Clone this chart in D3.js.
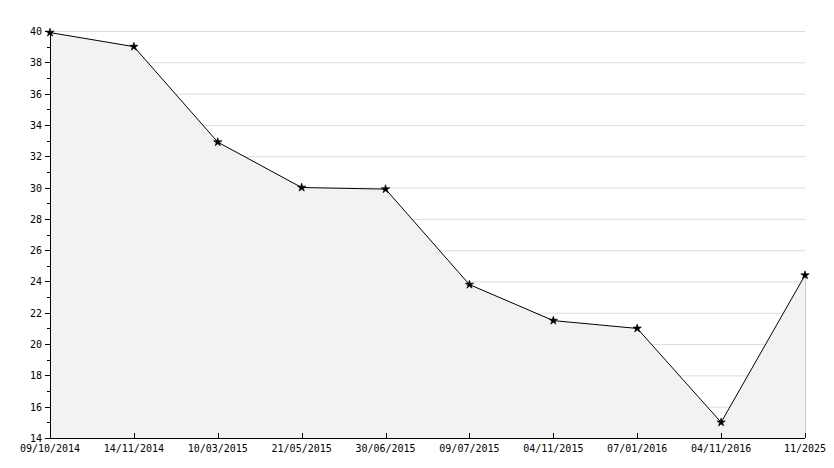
<!DOCTYPE html><html><head><script src="https://d3js.org/d3.v7.min.js"></script>
<style>body{margin:0;background:#fff}</style></head><body><script>
const categories=["09/10/2014","14/11/2014","10/03/2015","21/05/2015","30/06/2015","09/07/2015","04/11/2015","07/01/2016","04/11/2016","11/2025"];
const values=[39.9,39,32.9,30,29.9,23.8,21.5,21,15,24.4];
const yTicks=[14,16,18,20,22,24,26,28,30,32,34,36,38,40];
const W=834,H=468,L=50,R=805,T=31,B=438;
const svg=d3.select("body").append("svg").attr("width",W).attr("height",H);
const x=d3.scalePoint().domain(categories).range([L,R]);
const y=d3.scaleLinear().domain([14,40]).range([B,T]);
const font="DejaVu Sans Mono";
svg.append("g").selectAll("line").data(yTicks.slice(1)).join("line")
 .attr("x1",L).attr("x2",R).attr("y1",d=>y(d)+0.5).attr("y2",d=>y(d)+0.5).attr("stroke","#dcdcdc");
const pts=categories.map((c,i)=>[x(c),y(values[i])]);
svg.append("path").attr("d",d3.area().x(d=>d[0]).y0(B).y1(d=>d[1])(pts)).attr("fill","#f2f2f2");
svg.append("line").attr("x1",R+0.5).attr("x2",R+0.5).attr("y1",y(values[9])).attr("y2",B).attr("stroke","#ccc");
svg.append("path").attr("d",d3.line()(pts)).attr("fill","none").attr("stroke","#000").attr("stroke-width",1);
svg.selectAll(".pt").data(pts).join("path").attr("transform",d=>`translate(${d[0]},${d[1]})`)
 .attr("d",d3.symbol(d3.symbolStar,22)()).attr("fill","#000").attr("stroke","#000").attr("stroke-width",0.6);
svg.append("line").attr("x1",L+0.5).attr("x2",L+0.5).attr("y1",T).attr("y2",B).attr("stroke","#000");
for(let v=14;v<=40;v++){const yy=Math.round(y(v))+0.5;
 svg.append("line").attr("x1",L-(v%2?3:5)).attr("x2",L).attr("y1",yy).attr("y2",yy).attr("stroke","#000");}
svg.append("g").selectAll("text").data(yTicks).join("text").attr("x",L-8).attr("y",d=>y(d)+4)
 .attr("text-anchor","end").attr("font-family",font).attr("font-size",10).text(d=>d);
svg.append("line").attr("x1",L).attr("x2",R).attr("y1",B+0.5).attr("y2",B+0.5).attr("stroke","#000");
svg.append("g").selectAll("line").data(categories).join("line").attr("x1",d=>Math.round(x(d))+0.5).attr("x2",d=>Math.round(x(d))+0.5)
 .attr("y1",B-5).attr("y2",B).attr("stroke","#000");
svg.append("g").selectAll("text").data(categories).join("text").attr("x",d=>x(d)).attr("y",B+14)
 .attr("text-anchor","middle").attr("font-family",font).attr("font-size",10).text(d=>d);
</script></body></html>
